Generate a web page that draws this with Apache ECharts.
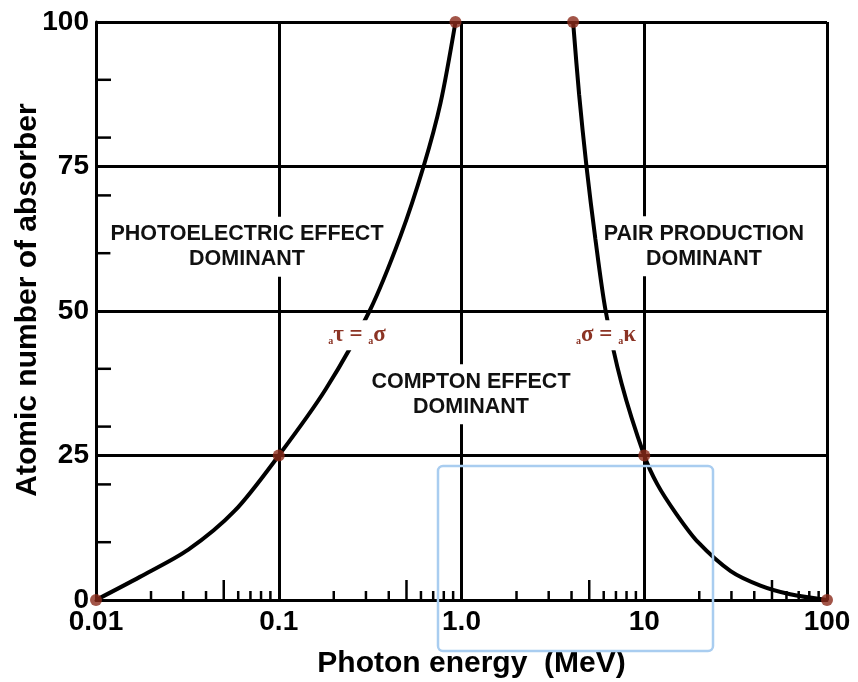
<!DOCTYPE html>
<html><head><meta charset="utf-8">
<script src="https://cdn.jsdelivr.net/npm/echarts@6/dist/echarts.min.js"></script>
<style>html,body{margin:0;padding:0;background:#fff}#c{width:858px;height:682px}</style>
</head><body><div id="c"></div>
<script>
// ---- data ----
const xTickValues = [0.01, 0.1, 1, 10, 100];
const xTickLabels = ['0.01', '0.1', '1.0', '10', '100'];
const yTickValues = [0, 25, 50, 75, 100];
const yTickLabels = ['0', '25', '50', '75', '100'];
const xMinorTicks = [0.02,0.03,0.04,0.05,0.06,0.07,0.08,0.09,
                     0.2,0.3,0.4,0.5,0.6,0.7,0.8,0.9,
                     2,3,4,5,6,7,8,9,
                     20,30,40,50,60,70,80,90];
const yMinorTicks = [10, 20, 30, 40, 60, 70, 80, 90];

// photoelectric / Compton boundary (tau = sigma)
const photoCurveE = [0.01, 0.0174, 0.032, 0.0573, 0.1, 0.181, 0.314, 0.464, 0.62, 0.768, 0.927];
const photoCurveZ = [0, 4.0, 8.7, 15.4, 25, 36.5, 50, 63, 75, 86, 100];
// Compton / pair production boundary (sigma = kappa)
const pairCurveE = [4.08, 4.40, 4.83, 5.40, 6.15, 7.51, 10, 11.8, 14.9, 19.7, 29.7, 43.2, 62.9, 100];
const pairCurveZ = [100, 87.5, 75, 62.5, 50, 37.5, 25, 20, 15, 10, 5, 2.5, 1, 0];

// marked points
const dotE = [0.01, 0.1, 0.927, 4.08, 10, 100];
const dotZ = [0, 25, 100, 100, 25, 0];

// region annotations
const regionText = ['PHOTOELECTRIC EFFECT\nDOMINANT', 'COMPTON EFFECT\nDOMINANT', 'PAIR PRODUCTION\nDOMINANT'];
const regionE = [0.067, 1.127, 21.2];
const regionZ = [61.1, 35.6, 61.2];
// equality annotations
const eqText = ['{s|a}{g|τ = }{s|a}{g|σ}', '{s|a}{g|σ = }{s|a}{g|κ}'];
const eqE = [0.268, 6.18];
const eqZ = [45.8, 45.8];

const FONT = 'Liberation Sans, Arial, Helvetica, sans-serif';
const SERIF = 'Liberation Serif, DejaVu Serif, serif';
const chart = echarts.init(document.getElementById('c'), null, {renderer: 'canvas'});

function xFmt(v) {
  const i = xTickValues.findIndex(t => Math.abs(Math.log10(t) - Math.log10(v)) < 1e-6);
  return i >= 0 ? xTickLabels[i] : '';
}
function yFmt(v) {
  const i = yTickValues.indexOf(v);
  return i >= 0 ? yTickLabels[i] : '';
}

const option = {
  backgroundColor: '#fff',
  animation: false,
  grid: {left: 96, right: 31, top: 22, bottom: 82, containLabel: false, outerBoundsMode: 'none'},
  xAxis: {
    type: 'log', logBase: 10, min: 0.01, max: 100,
    axisLine: {show: true, onZero: false, lineStyle: {color: '#000', width: 3}},
    axisTick: {show: false},
    splitLine: {show: true, lineStyle: {color: '#000', width: 3}},
    axisLabel: {formatter: xFmt, fontSize: 28, fontWeight: 'bold', color: '#000', fontFamily: FONT, margin: 8,
                showMinLabel: true, showMaxLabel: true},
    name: 'Photon energy  (MeV)', nameLocation: 'middle', nameGap: 49, nameMoveOverlap: false,
    nameTextStyle: {fontSize: 30, fontWeight: 'bold', color: '#000', fontFamily: FONT, padding: [0, 0, 0, 20]}
  },
  yAxis: {
    type: 'value', min: 0, max: 100, interval: 25,
    axisLine: {show: true, lineStyle: {color: '#000', width: 3}},
    axisTick: {show: false},
    splitLine: {show: true, lineStyle: {color: '#000', width: 3}},
    axisLabel: {formatter: yFmt, fontSize: 28, fontWeight: 'bold', color: '#000', fontFamily: FONT, margin: 7},
    name: 'Atomic number of absorber', nameLocation: 'middle', nameGap: 53, nameMoveOverlap: false,
    nameTextStyle: {fontSize: 30, fontWeight: 'bold', color: '#000', fontFamily: FONT, padding: [0, 0, 0, 22]}
  },
  series: [
    {
      type: 'custom', coordinateSystem: 'cartesian2d', silent: true, clip: false, z: 1,
      data: xMinorTicks.map(v => [v, 0]),
      renderItem: (params, api) => {
        const v = api.value(0);
        const p = api.coord([v, 0]);
        const mant = v / Math.pow(10, Math.floor(Math.log10(v) + 1e-9));
        const len = Math.abs(mant - 5) < 1e-6 ? 20 : 9;
        return {type: 'line', shape: {x1: p[0], y1: p[1], x2: p[0], y2: p[1] - len},
                style: {stroke: '#000', lineWidth: 2.5}};
      }
    },
    {
      type: 'custom', coordinateSystem: 'cartesian2d', silent: true, clip: false, z: 1,
      data: yMinorTicks.map(v => [0.01, v]),
      renderItem: (params, api) => {
        const p = api.coord([api.value(0), api.value(1)]);
        return {type: 'line', shape: {x1: p[0], y1: p[1], x2: p[0] + 15, y2: p[1]},
                style: {stroke: '#000', lineWidth: 2.5}};
      }
    },
    {
      type: 'line', data: photoCurveE.map((e, i) => [e, photoCurveZ[i]]),
      showSymbol: false, smooth: 0.3, clip: false, z: 3,
      lineStyle: {color: '#000', width: 4}
    },
    {
      type: 'line', data: pairCurveE.map((e, i) => [e, pairCurveZ[i]]),
      showSymbol: false, smooth: 0.3, clip: false, z: 3,
      lineStyle: {color: '#000', width: 4}
    },
    {
      type: 'scatter', data: dotE.map((e, i) => [e, dotZ[i]]),
      symbol: 'circle', symbolSize: 12, clip: false, z: 10, silent: true,
      itemStyle: {color: '#8b2a1a'}
    }
  ]
};
chart.setOption(option);

// annotations placed through the chart's own coordinate conversion
const graphics = [];
regionText.forEach((t, i) => {
  const p = chart.convertToPixel({gridIndex: 0}, [regionE[i], regionZ[i]]);
  graphics.push({
    type: 'text', x: p[0], y: p[1], z: 2, silent: true,
    style: {
      text: t, align: 'center', verticalAlign: 'middle',
      fontSize: 21.5, fontWeight: 'bold', fontFamily: FONT, fill: '#111', lineHeight: 25,
      backgroundColor: '#fff', padding: [5, 0]
    }
  });
});
eqText.forEach((t, i) => {
  const p = chart.convertToPixel({gridIndex: 0}, [eqE[i], eqZ[i]]);
  graphics.push({
    type: 'text', x: p[0], y: p[1], z: 50, silent: true,
    style: {
      text: t, align: 'center', verticalAlign: 'middle',
      backgroundColor: '#fff', padding: [4, 3],
      rich: {
        g: {fontSize: 23, fontWeight: 'bold', fill: '#8b3324', fontFamily: SERIF, lineHeight: 22},
        s: {fontSize: 10, fontWeight: 'bold', fill: '#8b3324', fontFamily: SERIF, lineHeight: 22, verticalAlign: 'bottom'}
      }
    }
  });
});
graphics.push({
  type: 'rect', z: 100, silent: true,
  shape: {x: 438, y: 466, width: 275, height: 185, r: 5},
  style: {fill: 'none', stroke: '#a9cdf0', lineWidth: 2.5}
});
chart.setOption({graphic: graphics});
</script>
</body></html>
